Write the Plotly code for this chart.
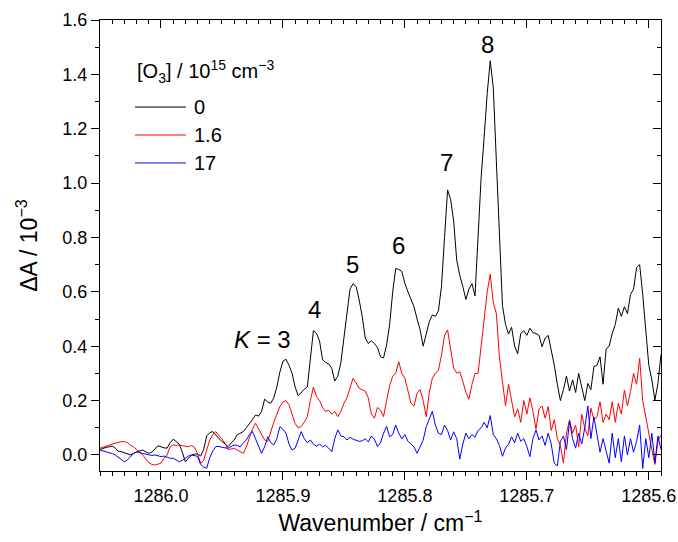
import plotly.graph_objects as go

# Wavenumber sampling grid (cm^-1): start, step, count
WN_START = 1286.05
WN_STEP = 0.0025
N_POINTS = 185
wavenumber = [round(WN_START - WN_STEP * i, 5) for i in range(N_POINTS)]

# Delta A / 1e-3, [O3] = 0
dA_0 = [
    0.020, 0.025, 0.028, 0.030, 0.033, 0.025, 0.014, 0.012, 0.008, 0.004,
    0.000, 0.006, 0.012, 0.015, 0.018, 0.012, 0.006, 0.010, 0.024, 0.034,
    0.030, 0.026, 0.025, 0.045, 0.058, 0.050, 0.040, 0.010, -0.025, -0.012,
    0.000, 0.003, 0.004, -0.004, 0.020, 0.070, 0.082, 0.086, 0.072, 0.060,
    0.050, 0.040, 0.031, 0.044, 0.055, 0.074, 0.080, 0.086, 0.100, 0.113,
    0.130, 0.147, 0.143, 0.160, 0.205, 0.195, 0.190, 0.210, 0.250, 0.305,
    0.345, 0.352, 0.330, 0.300, 0.250, 0.218, 0.232, 0.242, 0.250, 0.360,
    0.457, 0.448, 0.420, 0.350, 0.340, 0.335, 0.319, 0.272, 0.290, 0.340,
    0.430, 0.530, 0.610, 0.630, 0.620, 0.570, 0.510, 0.430, 0.410, 0.420,
    0.410, 0.395, 0.361, 0.357, 0.405, 0.480, 0.600, 0.686, 0.682, 0.675,
    0.631, 0.600, 0.570, 0.545, 0.500, 0.460, 0.400, 0.440, 0.490, 0.515,
    0.510, 0.530, 0.620, 0.800, 0.975, 0.940, 0.860, 0.717, 0.660, 0.620,
    0.572, 0.610, 0.630, 0.585, 0.800, 1.020, 1.170, 1.330, 1.450, 1.350,
    1.080, 0.800, 0.550, 0.480, 0.445, 0.470, 0.400, 0.372, 0.447, 0.457,
    0.440, 0.466, 0.450, 0.447, 0.440, 0.398, 0.430, 0.440, 0.386, 0.330,
    0.260, 0.200, 0.240, 0.290, 0.235, 0.276, 0.230, 0.300, 0.250, 0.200,
    0.263, 0.240, 0.325, 0.330, 0.361, 0.260, 0.390, 0.400, 0.447, 0.480,
    0.540, 0.510, 0.545, 0.520, 0.590, 0.610, 0.690, 0.700, 0.590, 0.470,
    0.330, 0.276, 0.202, 0.263, 0.370,
]

# [O3] = 1.6e15 cm^-3
dA_16 = [
    0.025, 0.028, 0.031, 0.036, 0.040, 0.043, 0.046, 0.049, 0.049, 0.045,
    0.036, 0.030, 0.020, 0.012, 0.000, -0.015, -0.028, -0.035, -0.037, -0.034,
    -0.030, -0.012, 0.000, 0.030, 0.037, 0.035, 0.037, 0.034, 0.031, 0.030,
    0.035, 0.028, 0.005, -0.031, -0.020, 0.020, 0.055, 0.075, 0.086, 0.070,
    0.060, 0.043, 0.020, 0.022, 0.025, 0.018, 0.012, 0.006, 0.030, 0.060,
    0.095, 0.117, 0.095, 0.075, 0.055, 0.050, 0.090, 0.120, 0.150, 0.178,
    0.195, 0.200, 0.185, 0.150, 0.115, 0.100, 0.105, 0.120, 0.141, 0.200,
    0.250, 0.215, 0.200, 0.175, 0.160, 0.165, 0.150, 0.160, 0.141, 0.160,
    0.190, 0.210, 0.250, 0.282, 0.265, 0.245, 0.240, 0.235, 0.210, 0.150,
    0.135, 0.175, 0.165, 0.141, 0.200, 0.255, 0.290, 0.300, 0.343, 0.300,
    0.282, 0.230, 0.190, 0.180, 0.227, 0.240, 0.200, 0.141, 0.230, 0.282,
    0.300, 0.312, 0.367, 0.440, 0.460, 0.390, 0.320, 0.301, 0.306, 0.270,
    0.230, 0.205, 0.260, 0.300, 0.300, 0.400, 0.510, 0.600, 0.665, 0.560,
    0.520, 0.360, 0.270, 0.180, 0.260, 0.200, 0.140, 0.170, 0.120, 0.200,
    0.150, 0.210, 0.160, 0.095, 0.170, 0.180, 0.135, 0.178, 0.090, 0.130,
    0.060, 0.035, -0.030, 0.080, 0.129, 0.080, 0.110, 0.030, 0.150, 0.098,
    0.070, 0.172, 0.130, 0.140, 0.196, 0.120, 0.150, 0.130, 0.196, 0.120,
    0.190, 0.150, 0.239, 0.180, 0.233, 0.300, 0.260, 0.355, 0.200, 0.140,
    0.074, 0.020, -0.035, 0.050, 0.074,
]

# [O3] = 17e15 cm^-3
dA_17 = [
    0.018, 0.015, 0.012, 0.010, 0.005, 0.000, -0.008, -0.015, -0.025, -0.018,
    -0.005, 0.005, 0.012, 0.008, 0.006, 0.003, 0.000, -0.002, 0.000, -0.004,
    -0.006, -0.004, -0.008, -0.012, -0.012, -0.020, -0.025, -0.020, -0.012, -0.004,
    0.000, -0.002, -0.005, -0.035, -0.045, -0.049, -0.010, 0.015, 0.031, 0.031,
    0.028, 0.026, 0.025, 0.030, 0.037, 0.035, 0.030, 0.045, 0.055, 0.075,
    0.086, 0.060, 0.031, 0.006, 0.030, 0.067, 0.045, 0.037, 0.060, 0.104,
    0.095, 0.080, 0.040, 0.018, 0.025, 0.055, 0.086, 0.060, 0.045, 0.055,
    0.040, 0.032, 0.040, 0.030, 0.035, 0.025, 0.012, 0.060, 0.092, 0.070,
    0.067, 0.055, 0.065, 0.058, 0.055, 0.050, 0.052, 0.060, 0.048, 0.070,
    0.058, 0.031, 0.045, 0.080, 0.105, 0.067, 0.075, 0.110, 0.080, 0.060,
    0.075, 0.050, 0.040, 0.030, 0.006, 0.030, 0.055, 0.104, 0.130, 0.160,
    0.110, 0.080, 0.075, 0.110, 0.090, 0.055, 0.085, 0.060, -0.015, 0.040,
    0.080, 0.060, 0.075, 0.065, 0.090, 0.100, 0.120, 0.100, 0.145, 0.075,
    0.060, 0.035, -0.005, 0.025, 0.040, 0.067, 0.045, 0.080, 0.050, 0.060,
    0.031, -0.006, 0.060, 0.092, 0.055, 0.070, 0.035, 0.080, 0.040, -0.031,
    -0.040, 0.050, 0.070, 0.020, 0.125, 0.060, 0.025, 0.080, 0.040, 0.100,
    0.180, 0.060, 0.140, 0.070, 0.010, 0.060, 0.015, -0.030, 0.080, -0.010,
    0.060, -0.025, 0.070, 0.000, 0.060, 0.010, 0.050, 0.110, -0.050, 0.060,
    -0.010, 0.080, -0.030, 0.070, 0.020,
]

series_names = ["0", "1.6", "17"]
series_values = [dA_0, dA_16, dA_17]
series_colors = ["#000000", "#ff0000", "#0000ff"]
legend_title = "[O<sub>3</sub>] / 10<sup>15</sup> cm<sup>−3</sup>"

# Peak labels (K quantum number)
peak_labels = ["<i>K</i> = 3", "4", "5", "6", "7", "8"]
peak_label_wn = [1285.917, 1285.874, 1285.843, 1285.805, 1285.766, 1285.732]
peak_label_y = [0.423, 0.535, 0.699, 0.772, 1.074, 1.511]

FONT = "Liberation Sans, Arial, sans-serif"
x_range = [1286.05, 1285.59]
y_range = [-0.059, 1.6]

fig = go.Figure()
for name, vals, col in zip(series_names, series_values, series_colors):
    fig.add_trace(go.Scatter(x=wavenumber, y=vals, mode="lines", name=name,
                             line=dict(color=col, width=1), showlegend=False))
# empty trace so that the mirrored (top/right) axes are drawn
fig.add_trace(go.Scatter(x=[], y=[], xaxis="x2", yaxis="y2", showlegend=False,
                         hoverinfo="skip"))

for txt, xw, yv in zip(peak_labels, peak_label_wn, peak_label_y):
    fig.add_annotation(x=xw, y=yv, xref="x", yref="y", text=txt, showarrow=False,
                       font=dict(family=FONT, size=24, color="#000000"))

# legend drawn by hand (long line samples as in the reference)
leg_x0, leg_x1, leg_tx = 0.0624, 0.1533, 0.164
leg_rows = [0.807, 0.745, 0.683]
fig.add_annotation(x=leg_x0, y=0.885, xref="paper", yref="paper", text=legend_title,
                   showarrow=False, xanchor="left", yanchor="middle",
                   font=dict(family=FONT, size=20, color="#000000"))
for name, col, yy in zip(series_names, series_colors, leg_rows):
    fig.add_shape(type="line", xref="paper", yref="paper", x0=leg_x0, x1=leg_x1,
                  y0=yy, y1=yy, line=dict(color=col, width=1))
    fig.add_annotation(x=leg_tx, y=yy, xref="paper", yref="paper", text=name,
                       showarrow=False, xanchor="left", yanchor="middle",
                       font=dict(family=FONT, size=20, color="#000000"))

common_x = dict(range=x_range, showgrid=False, zeroline=False, showline=True,
                linecolor="black", linewidth=1, tickwidth=1, tickcolor="black",
                tick0=1286.0, dtick=0.1, automargin=False)
common_y = dict(range=y_range, showgrid=False, zeroline=False, showline=True,
                linecolor="black", linewidth=1, tickwidth=1, tickcolor="black",
                tick0=0, dtick=0.2, automargin=False)

fig.update_layout(
    width=678, height=542,
    margin=dict(l=100, r=17, t=20, b=71),
    paper_bgcolor="white", plot_bgcolor="white",
    font=dict(family=FONT, size=18, color="#000000"),
    showlegend=False,
    xaxis=dict(
        **common_x, ticks="outside", ticklen=8, tickformat=".1f",
        minor=dict(ticks="outside", ticklen=4, dtick=0.01, tick0=1286.0,
                   tickcolor="black", showgrid=False),
        tickfont=dict(size=18),
        title=dict(text="Wavenumber / cm<sup>−1</sup>", font=dict(size=23), standoff=10),
    ),
    yaxis=dict(
        **common_y, ticks="outside", ticklen=8, tickformat=".1f",
        minor=dict(ticks="outside", ticklen=4, dtick=0.1, tick0=0,
                   tickcolor="black", showgrid=False),
        tickfont=dict(size=18),
        title=dict(text="ΔA / 10<sup>−3</sup>", font=dict(size=23), standoff=18),
    ),
    xaxis2=dict(
        **common_x, overlaying="x", side="top", anchor="y2",
        ticks="inside", ticklen=8, showticklabels=False,
        minor=dict(ticks="inside", ticklen=4, dtick=0.01, tick0=1286.0,
                   tickcolor="black", showgrid=False),
    ),
    yaxis2=dict(
        **common_y, overlaying="y", side="right", anchor="x2",
        ticks="inside", ticklen=8, showticklabels=False,
        minor=dict(ticks="inside", ticklen=4, dtick=0.1, tick0=0,
                   tickcolor="black", showgrid=False),
    ),
)

# remove the page's default body margin so the figure sits at the window origin
fig.write_html("out.html",
               config={"displayModeBar": False},
               post_script="document.body.style.margin='0';document.body.style.padding='0';")
